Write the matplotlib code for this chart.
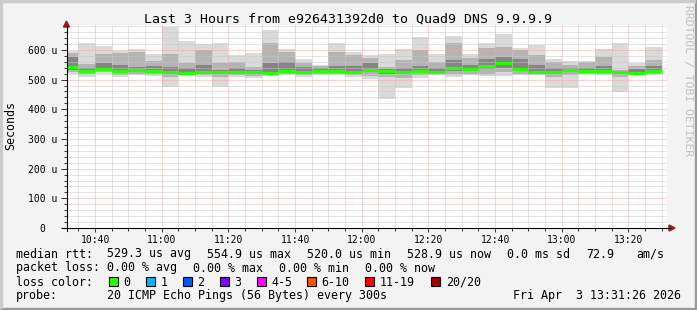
import numpy as np
import pandas as pd
import matplotlib
matplotlib.use('Agg')
import matplotlib.pyplot as plt
import matplotlib.dates as mdates
from matplotlib.ticker import MultipleLocator, FuncFormatter
from matplotlib.patches import Rectangle, Polygon
from matplotlib.lines import Line2D

W, H = 697, 310
MONO = 'DejaVu Sans Mono'

# 5 minute bins (smokeping, 20 pings each)
bin_start = pd.date_range('2026-04-03 10:30', periods=36, freq='5min')
t_from = pd.Timestamp('2026-04-03 10:31:26')
t_to = pd.Timestamp('2026-04-03 13:31:26')

# rtt in microseconds
rtt_max = [598, 625, 613, 597, 603, 586, 676, 630, 619, 622, 583, 591, 667, 602, 568, 549, 622, 592,
           583, 585, 602, 643, 585, 647, 585, 625, 654, 608, 617, 568, 563, 564, 602, 622, 557, 609]
rtt_hi = [589, 553, 585, 589, 594, 564, 586, 557, 600, 555, 561, 544, 622, 594, 555, 545, 594, 583,
          572, 544, 566, 600, 561, 622, 572, 606, 611, 600, 583, 561, 549, 560, 575, 533, 546, 566]
rtt_q3 = [575, 540, 556, 550, 544, 545, 544, 540, 549, 533, 540, 533, 555, 560, 544, 538, 545, 545,
          555, 535, 540, 545, 540, 566, 550, 570, 575, 570, 548, 540, 538, 540, 545, 530, 535, 545]
rtt_median = [544, 529, 536, 529, 532, 529, 524, 523, 527, 525, 525, 525, 521, 529, 527, 529, 529, 525,
              533, 529, 525, 529, 524, 540, 536, 547, 555, 536, 527, 525, 531, 529, 530, 527, 521, 530]
rtt_q1 = [533, 524, 530, 524, 524, 524, 518, 520, 522, 520, 520, 518, 518, 524, 522, 524, 524, 520,
          525, 520, 520, 524, 520, 530, 528, 535, 540, 528, 522, 520, 525, 524, 525, 522, 518, 524]
rtt_lo = [525, 518, 524, 516, 519, 518, 510, 518, 516, 508, 515, 512, 515, 520, 516, 520, 520, 515,
          512, 510, 505, 516, 518, 520, 520, 520, 525, 520, 518, 510, 515, 520, 520, 510, 517, 519]
rtt_min = [518, 510, 519, 510, 515, 512, 476, 516, 510, 476, 510, 504, 512, 516, 510, 516, 516, 510,
           501, 435, 471, 504, 516, 508, 516, 512, 512, 516, 516, 471, 471, 519, 516, 459, 516, 516]

loss_labels = ['0', '1', '2', '3', '4-5', '6-10', '11-19', '20/20']
loss_colors = ['#26ff00', '#00b8ff', '#0059ff', '#7e00ff', '#ff00ff', '#ff5500', '#ff0000', '#a10000']

title = 'Last 3 Hours from e926431392d0 to Quad9 DNS 9.9.9.9'


def fx(x):
    return x / W


def fy(y):
    return 1 - y / H


fig = plt.figure(figsize=(W / 100, H / 100), dpi=100)
fig.patch.set_facecolor('#f3f3f3')

ax = fig.add_axes([fx(66.5), fy(228), 600 / W, 203 / H])
ax.set_facecolor('white')

x0 = mdates.date2num(bin_start.to_pydatetime())
width = 5 / 1440.0

# smoke: light outside, darker towards the median
ax.bar(x0, np.array(rtt_max) - np.array(rtt_min), width, bottom=rtt_min, align='edge',
       color='#dadada', linewidth=0, zorder=1)
ax.bar(x0, np.array(rtt_hi) - np.array(rtt_lo), width, bottom=rtt_lo, align='edge',
       color='#b4b4b4', linewidth=0, zorder=1.1)
ax.bar(x0, np.array(rtt_q3) - np.array(rtt_q1), width, bottom=rtt_q1, align='edge',
       color='#858585', linewidth=0, zorder=1.2)
ax.hlines(rtt_median, x0, x0 + width, color=loss_colors[0], linewidth=2.3, zorder=3)

ax.set_xlim(mdates.date2num(t_from.to_pydatetime()), mdates.date2num(t_to.to_pydatetime()))
ax.set_ylim(0, 684)

ax.xaxis.set_major_locator(mdates.MinuteLocator(byminute=[0, 20, 40]))
ax.xaxis.set_minor_locator(mdates.MinuteLocator(byminute=range(0, 60, 5)))
ax.xaxis.set_major_formatter(mdates.DateFormatter('%H:%M'))
ax.yaxis.set_major_locator(MultipleLocator(100))
ax.yaxis.set_minor_locator(MultipleLocator(20))
ax.yaxis.set_major_formatter(FuncFormatter(lambda v, p: '0  ' if v == 0 else '%d u' % v))

ax.set_axisbelow(False)
ax.grid(which='minor', color='#c8c8c8', linestyle=(0, (1, 1)), linewidth=0.72)
ax.grid(which='major', color='#f0a8a8', linestyle=(0, (1, 1)), linewidth=0.72)

for s in ax.spines.values():
    s.set_visible(False)

ax.tick_params(axis='both', which='both', colors='#333333', width=0.7)
ax.tick_params(axis='x', which='major', length=3, pad=2)
ax.tick_params(axis='x', which='minor', length=2)
ax.tick_params(axis='y', which='major', length=4, pad=2.5)
ax.tick_params(axis='y', which='minor', length=2)
for lab in ax.get_xticklabels() + ax.get_yticklabels():
    lab.set_fontfamily(MONO)
    lab.set_fontsize(7)
    lab.set_color('black')

# axis lines with arrows
fig.add_artist(Line2D([fx(62), fx(670)], [fy(228), fy(228)], color='black', lw=0.8))
fig.add_artist(Line2D([fx(66.5), fx(66.5)], [fy(231), fy(26)], color='black', lw=0.8))
fig.add_artist(Polygon([[fx(669), fy(225)], [fx(675), fy(228)], [fx(669), fy(231)]],
                       closed=True, color='#a01818', transform=fig.transFigure))
fig.add_artist(Polygon([[fx(63.5), fy(27)], [fx(66.5), fy(21)], [fx(69.5), fy(27)]],
                       closed=True, color='#a01818', transform=fig.transFigure))

fig.text(fx(348), fy(19), title, ha='center', va='center', family=MONO, fontsize=9.55)
fig.text(fx(11), fy(126), 'Seconds', ha='center', va='center', rotation=90,
         family=MONO, fontsize=8.4)
fig.text(fx(688), fy(5), 'RRDTOOL / TOBI OETIKER', ha='center', va='top', rotation=270,
         family=MONO, fontsize=8.2, color='#c0c0c0')

# legend block
rows = [
    (254, [('median rtt:', 16), ('529.3 us avg', 107), ('554.9 us max', 207), ('520.0 us min', 307),
           ('528.9 us now', 407), ('0.0 ms sd', 507), ('72.9', 586), ('am/s', 636)]),
    (268, [('packet loss:', 16), ('0.00 % avg', 107), ('0.00 % max', 193), ('0.00 % min', 279),
           ('0.00 % now', 365)]),
    (282, [('loss color:', 16)]),
    (296, [('probe:', 16), ('20 ICMP Echo Pings (56 Bytes) every 300s', 107),
           ('Fri Apr  3 13:31:26 2026', 513)]),
]
for yy, items in rows:
    for txt, xx in items:
        fig.text(fx(xx), fy(yy), txt, ha='left', va='center', family=MONO, fontsize=8.4)

sw_x = [108.5, 145.5, 182.5, 219.5, 256.5, 306.5, 365, 431]
for lab, col, xx in zip(loss_labels, loss_colors, sw_x):
    fig.add_artist(Rectangle((fx(xx), fy(286)), 9 / W, 9 / H, facecolor=col, edgecolor='black',
                             lw=0.8, transform=fig.transFigure))
    fig.text(fx(xx + 15), fy(282), lab, ha='left', va='center', family=MONO, fontsize=8.4)

# 3d frame
fig.add_artist(Rectangle((0, 0), 1, 2 / H, color='#999999', transform=fig.transFigure))
fig.add_artist(Rectangle((1 - 2 / W, 0), 2 / W, 1, color='#999999', transform=fig.transFigure))
fig.add_artist(Rectangle((0, 1 - 2 / H), 1 - 2 / W, 2 / H, color='#cbcbcb', transform=fig.transFigure))
fig.add_artist(Rectangle((0, 2 / H), 2 / W, 1 - 4 / H, color='#cbcbcb', transform=fig.transFigure))

fig.savefig('out.png', dpi=100, facecolor=fig.get_facecolor())
